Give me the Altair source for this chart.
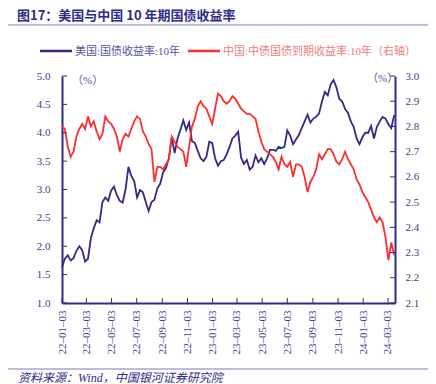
import altair as alt
import pandas as pd

# ---------------- data ----------------
us_10y = [
    # 2022
    1.63, 1.78, 1.84, 1.75, 1.79, 1.92, 2.00, 1.93, 1.73, 1.78, 2.14, 2.32, 2.46,
    2.42, 2.78, 2.86, 2.80, 2.98, 3.05, 2.90, 2.80, 2.77, 3.00, 3.40, 3.24, 3.15,
    2.86, 2.99, 2.95, 2.78, 2.62, 2.78, 2.82, 3.02, 3.10, 3.30, 3.38, 3.55, 3.92,
    3.64, 3.90, 4.05, 4.22, 4.05, 4.18, 3.85, 3.82, 3.68, 3.55, 3.50, 3.58, 3.84,
    # 2023
    3.82, 3.55, 3.42, 3.50, 3.52, 3.62, 3.75, 3.90, 3.95, 4.02, 3.56, 3.45, 3.52,
    3.35, 3.40, 3.60, 3.48, 3.55, 3.45, 3.55, 3.70, 3.70, 3.68, 3.75, 3.73, 3.75,
    4.04, 3.95, 3.80, 3.88, 3.96, 4.08, 4.20, 4.32, 4.18, 4.25, 4.28, 4.34, 4.55,
    4.72, 4.66, 4.85, 4.93, 4.80, 4.60, 4.55, 4.42, 4.35, 4.20, 4.10, 3.90, 3.80,
    # 2024
    3.92, 4.00, 4.00, 4.12, 3.90, 4.10, 4.20, 4.28, 4.25, 4.15, 4.08, 4.31,
]
cn_10y = [
    # 2022
    2.80, 2.79, 2.72, 2.68, 2.70, 2.76, 2.79, 2.81, 2.79, 2.84, 2.80, 2.82, 2.78,
    2.75, 2.77, 2.84, 2.82, 2.81, 2.79, 2.76, 2.70, 2.75, 2.77, 2.76, 2.79, 2.82,
    2.84, 2.83, 2.78, 2.76, 2.73, 2.71, 2.58, 2.64, 2.64, 2.63, 2.65, 2.67, 2.76,
    2.74, 2.72, 2.71, 2.70, 2.64, 2.72, 2.80, 2.83, 2.88, 2.90, 2.88, 2.87, 2.84,
    # 2023
    2.81, 2.87, 2.93, 2.92, 2.90, 2.89, 2.90, 2.92, 2.91, 2.89, 2.87, 2.86, 2.85,
    2.85, 2.84, 2.83, 2.78, 2.74, 2.71, 2.70, 2.69, 2.68, 2.66, 2.63, 2.68, 2.65,
    2.64, 2.66, 2.60, 2.65, 2.65, 2.64, 2.60, 2.54, 2.58, 2.60, 2.63, 2.69, 2.67,
    2.69, 2.71, 2.71, 2.69, 2.66, 2.65, 2.67, 2.70, 2.67, 2.65, 2.63, 2.59, 2.57,
    # 2024
    2.54, 2.52, 2.50, 2.47, 2.44, 2.42, 2.44, 2.42, 2.36, 2.27, 2.34, 2.29,
]
dates = pd.date_range("2022-01-03", periods=len(us_10y), freq="W-MON")

x_tick_dates = [
    "2022-01-03", "2022-03-03", "2022-05-03", "2022-07-03", "2022-09-03",
    "2022-11-03", "2023-01-03", "2023-03-03", "2023-05-03", "2023-07-03",
    "2023-09-03", "2023-11-03", "2024-01-03", "2024-03-03",
]
left_ticks = [1.0, 1.5, 2.0, 2.5, 3.0, 3.5, 4.0, 4.5, 5.0]
right_ticks = [2.1, 2.2, 2.3, 2.4, 2.5, 2.6, 2.7, 2.8, 2.9, 3.0]

title_text = "图17：美国与中国 10 年期国债收益率"
legend_us = "美国:国债收益率:10年"
legend_cn = "中国:中债国债到期收益率:10年（右轴）"
unit_text = "（%）"
source_text = "资料来源：Wind，中国银河证券研究院"

# ---------------- style ----------------
W, H = 333, 227
BLUE = "#2F2B87"
RED = "#FF2E2E"
AXIS_TXT = "#3E3B91"
SERIF = "Liberation Serif, Noto Sans CJK SC"
CJK = "Noto Sans CJK SC"

df = pd.DataFrame({"date": dates, "us": us_10y, "cn": cn_10y})
xt = pd.DataFrame({"date": pd.to_datetime(x_tick_dates)})
lt = pd.DataFrame({"v": left_ticks})
rt = pd.DataFrame({"v": right_ticks})
xdom = [alt.DateTime(year=2022, month=1, date=3), alt.DateTime(year=2024, month=3, date=20)]
xvals = [alt.DateTime(year=int(s[:4]), month=int(s[5:7]), date=int(s[8:])) for s in x_tick_dates]

x_axis = alt.Axis(
    values=xvals, format="%y–%m–%d", labelAngle=270, labelFont=SERIF,
    labelFontSize=11, labelColor=AXIS_TXT, ticks=False, tickSize=0,
    labelPadding=7, domainColor=BLUE, domainWidth=2, grid=False,
    labelOverlap=False, labelFlush=False, labelBound=False,
)
x_enc = alt.X("date:T", title=None, scale=alt.Scale(domain=xdom), axis=x_axis)

us_line = alt.Chart(df).mark_line(color=BLUE, strokeWidth=1.8).encode(
    x=x_enc,
    y=alt.Y(
        "us:Q", title=None,
        scale=alt.Scale(domain=[1.0, 5.0], nice=False, zero=False),
        axis=alt.Axis(
            orient="left", values=left_ticks, format=".1f", labelFont=SERIF,
            labelFontSize=11, labelColor=AXIS_TXT, ticks=False, tickSize=0,
            labelPadding=12, domainColor=BLUE, domainWidth=2, grid=False,
        ),
    ),
)
cn_line = alt.Chart(df).mark_line(color=RED, strokeWidth=1.8).encode(
    x=x_enc,
    y=alt.Y(
        "cn:Q", title=None,
        scale=alt.Scale(domain=[2.1, 3.0], nice=False, zero=False),
        axis=alt.Axis(
            orient="right", values=right_ticks, format=".1f", labelFont=SERIF,
            labelFontSize=11, labelColor=AXIS_TXT, ticks=False, tickSize=0,
            labelPadding=10, domainColor=BLUE, domainWidth=2, grid=False,
        ),
    ),
)

# inward ticks
x_ticks = alt.Chart(xt).mark_rule(color=BLUE, strokeWidth=1).encode(
    x=x_enc, y=alt.value(H), y2=alt.value(H - 5)
)
l_ticks = alt.Chart(lt).mark_rule(color=BLUE, strokeWidth=1).encode(
    y=alt.Y("v:Q", scale=alt.Scale(domain=[1.0, 5.0], nice=False, zero=False), axis=None),
    x=alt.value(0), x2=alt.value(5),
)
r_ticks = alt.Chart(rt).mark_rule(color=BLUE, strokeWidth=1).encode(
    y=alt.Y("v:Q", scale=alt.Scale(domain=[2.1, 3.0], nice=False, zero=False), axis=None),
    x=alt.value(W), x2=alt.value(W - 5),
)

def txt(s, x, y, size=11, color=AXIS_TXT, font=SERIF, weight="normal", style="normal"):
    return alt.Chart(pd.DataFrame({"t": [s]})).mark_text(
        align="left", baseline="alphabetic", fontSize=size, color=color,
        font=font, fontWeight=weight, fontStyle=style,
    ).encode(x=alt.value(x), y=alt.value(y), text="t:N")

def hline(x1, x2, y, color, w):
    return alt.Chart(pd.DataFrame({"a": [0]})).mark_rule(color=color, strokeWidth=w).encode(
        x=alt.value(x1), x2=alt.value(x2), y=alt.value(y)
    )

deco = [
    txt(title_text, -45, -56, size=13, color="#2E2B85", font=CJK, weight="bold"),
    hline(-54, 366, -51, "#A9A5D3", 1.5),
    hline(-22, 10, -25, BLUE, 2.5),
    txt(legend_us, 13, -21, color="#5553A3"),
    hline(126, 158, -25, RED, 2.5),
    txt(legend_cn, 161, -21, color="#F07C7C"),
    txt(unit_text, 10, 8, color="#5553A3"),
    txt(unit_text, 305, 6, color="#5553A3"),
    hline(-54, 366, 293, "#A9A5D3", 1.5),
    txt(source_text, -44, 306, size=12, color="#2E2B85", style="italic"),
]

chart = alt.layer(
    us_line, cn_line, x_ticks, l_ticks, r_ticks, *deco
).resolve_scale(y="independent").properties(
    width=W, height=H,
    autosize=alt.AutoSizeParams(type="none"),
    padding={"left": 54, "top": 68, "right": 33, "bottom": 81},
).configure_view(stroke=None)

chart.save("out.html", embed_options={"renderer": "svg", "actions": False})
